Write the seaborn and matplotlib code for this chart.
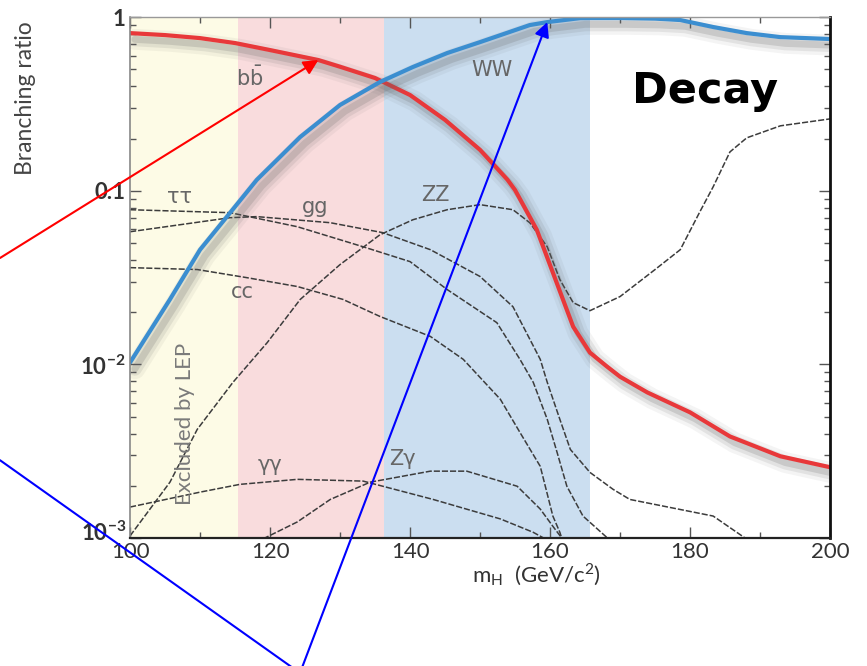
import matplotlib
matplotlib.use("Agg")
import matplotlib.pyplot as plt
import matplotlib.patheffects as pe
import matplotlib.transforms as mtransforms
from matplotlib.lines import Line2D
from matplotlib.ticker import FixedLocator, LogLocator, NullFormatter, MultipleLocator
import seaborn as sns

# ---- Higgs decay branching ratios vs. mass (GeV/c^2) ----
bb_mass = [100, 105, 110, 115, 120, 126.9, 130, 135, 140, 145, 150, 153.9, 155,
           158.1, 160.4, 163.3, 165.7, 168.1, 170, 173.9, 180, 185.7, 192.9, 200]
bb_br = [0.809, 0.788, 0.757, 0.709, 0.646, 0.566, 0.518, 0.446, 0.356, 0.256,
         0.172, 0.116, 0.101, 0.0597, 0.0338, 0.0165, 0.0117, 0.00975, 0.0085,
         0.0069, 0.0053, 0.00385, 0.00296, 0.00256]

ww_mass = [100, 105.7, 110, 114.3, 118.1, 124.3, 130, 135.7, 140.4, 145.3, 150,
           157.1, 159.6, 164.3, 170, 175, 178.6, 183.3, 188.1, 192.9, 200]
ww_br = [0.01026, 0.0237, 0.0458, 0.0748, 0.1156, 0.204, 0.312, 0.423, 0.516,
         0.621, 0.718, 0.900, 0.936, 0.987, 0.987, 0.98, 0.962, 0.877, 0.809,
         0.767, 0.748]

zz_mass = [100, 105.7, 109.6, 114.7, 119.6, 124.3, 130, 135.7, 140.4, 145.3, 150,
           154.7, 157.1, 159.6, 161.4, 163.3, 165.7, 170, 175, 178.6, 181.4,
           183.3, 185.7, 188.1, 192.9, 200]
zz_br = [0.00103, 0.0021, 0.00423, 0.00789, 0.01337, 0.02366, 0.0376, 0.0558,
         0.0681, 0.0778, 0.0832, 0.0778, 0.0655, 0.0476, 0.0308, 0.0227, 0.0204,
         0.0246, 0.0352, 0.0458, 0.0757, 0.1054, 0.1675, 0.2018, 0.2366, 0.2594]

tautau_mass = [100, 114.3, 123.9, 133.3, 140, 145.3, 152.4, 155.7, 157.6, 159.6,
               161, 162.4, 164.7, 168.1]
tautau_br = [0.0778, 0.0748, 0.0621, 0.0476, 0.0391, 0.0270, 0.0174, 0.0107,
             0.00789, 0.00483, 0.00312, 0.00199, 0.00134, 0.00101]

gg_mass = [100, 114.3, 118.1, 128.6, 136.1, 142.9, 150, 154.7, 158.6, 159.6,
           161.4, 162.9, 165.7, 169, 171.4, 183.3, 188.1]
gg_br = [0.0581, 0.0700, 0.0710, 0.0655, 0.0574, 0.0458, 0.0321, 0.0215, 0.0107,
         0.00789, 0.00483, 0.00324, 0.00239, 0.00191, 0.00167, 0.00134, 0.000986]

cc_mass = [100, 109.6, 116.7, 123.9, 130.4, 135.7, 142.9, 147.6, 152.9, 155.7,
           158.6, 160.4, 161.4, 161.7]
cc_br = [0.0361, 0.0352, 0.0316, 0.0281, 0.0237, 0.0189, 0.0145, 0.0107, 0.0063,
         0.00406, 0.00259, 0.00134, 0.00108, 0.00099]

gamgam_mass = [100, 110, 115.7, 123.9, 133.3, 143.3, 152.9, 157.6, 159.3]
gamgam_br = [0.00151, 0.00184, 0.00204, 0.00218, 0.00213, 0.00167, 0.00129,
             0.00108, 0.00099]

zgam_mass = [119, 123.9, 128.6, 134.3, 142.9, 148.1, 155.3, 158.6, 160.4, 161.6]
zgam_br = [0.00099, 0.00124, 0.00167, 0.00210, 0.00243, 0.00243, 0.00199,
           0.00147, 0.00117, 0.00101]

# mass windows: excluded by LEP / low-mass / WW region
band_edges = [100, 115.4, 136.3, 165.7]
band_colors = ["#fdfbe6", "#f9dcdd", "#cbdef0"]

x_ticks = [100, 120, 140, 160, 180, 200]
y_ticks = [1e-3, 1e-2, 0.1, 1]
y_tick_labels = [r"$\mathregular{10^{-3}}$", r"$\mathregular{10^{-2}}$", "0.1", "1"]

# ---- style ----
sns.set_style("ticks")
plt.rcParams["font.family"] = ["Lato", "DejaVu Sans"]
plt.rcParams["mathtext.fontset"] = "dejavusans"

fig = plt.figure(figsize=(8.67, 6.66), dpi=100)
ax = fig.add_axes([0.150, 0.192, 0.8074, 0.7823])

for lo, hi, c in zip(band_edges[:-1], band_edges[1:], band_colors):
    ax.axvspan(lo, hi, color=c, lw=0, zorder=0)

thin = dict(color="#3c3c3c", lw=1.1, linestyle=(0, (4, 1.3)), legend=False,
            estimator=None, zorder=3)
for m, br in [(zz_mass, zz_br), (tautau_mass, tautau_br), (gg_mass, gg_br),
              (cc_mass, cc_br), (gamgam_mass, gamgam_br), (zgam_mass, zgam_br)]:
    sns.lineplot(x=m, y=br, ax=ax, **thin)

shadow = [pe.SimpleLineShadow(offset=(3.5, -4.5), shadow_color="#666666", alpha=0.07, linewidth=15),
          pe.SimpleLineShadow(offset=(3.5, -4.5), shadow_color="#666666", alpha=0.12, linewidth=10),
          pe.SimpleLineShadow(offset=(3.5, -4.5), shadow_color="#666666", alpha=0.20, linewidth=5),
          pe.Normal()]
sns.lineplot(x=bb_mass, y=bb_br, ax=ax, color="#e8383a", lw=3, legend=False,
             estimator=None, zorder=5, path_effects=shadow)
sns.lineplot(x=ww_mass, y=ww_br, ax=ax, color="#3b8ed0", lw=3, legend=False,
             estimator=None, zorder=5, path_effects=shadow)

ax.set_yscale("log")
ax.set_xlim(100, 200)
ax.set_ylim(1e-3, 1)
ax.xaxis.set_major_locator(FixedLocator(x_ticks))
ax.xaxis.set_minor_locator(MultipleLocator(10))
ax.yaxis.set_major_locator(FixedLocator(y_ticks))
ax.set_yticklabels(y_tick_labels)
ax.yaxis.set_minor_locator(LogLocator(base=10, subs=range(2, 10)))
ax.yaxis.set_minor_formatter(NullFormatter())
ax.tick_params(which="both", direction="in", top=True, right=True,
               colors="#555555")
ax.tick_params(which="major", length=8, width=1)
ax.tick_params(which="minor", length=4, width=1)
ax.tick_params(axis="x", labelsize=16, labelcolor="#333333", pad=3)
ax.tick_params(axis="y", labelsize=16, labelcolor="#333333", pad=3)
for lbl in ax.get_yticklabels():
    lbl.set_fontweight("bold")
# lift the lowest decade label a little so it clears the first mass label
low_lbl = ax.get_yticklabels()[0]
low_lbl.set_transform(low_lbl.get_transform() +
                      mtransforms.ScaledTranslation(0, 5 / 72, fig.dpi_scale_trans))

ax.spines["left"].set_color("#888888")
ax.spines["top"].set_color("#999999")
ax.spines["bottom"].set_color("#222222")
ax.spines["right"].set_color("#111111")
ax.spines["left"].set_linewidth(1.2)
ax.spines["top"].set_linewidth(1.0)
ax.spines["bottom"].set_linewidth(1.6)
ax.spines["right"].set_linewidth(2.0)
for s in ax.spines.values():
    s.set_zorder(6)

ax.set_xlabel(r"$\mathregular{m_H}$  (GeV/c$^\mathregular{2}$)", fontsize=16,
              color="#333333")
ax.xaxis.set_label_coords(0.58, -0.045)
ax.set_ylabel("Branching ratio", fontsize=16.5, color="#444444")
ax.yaxis.set_label_coords(-0.135, 0.845)

lab = dict(color="#666666", fontsize=15, ha="center", va="center", zorder=4,
           family=["DejaVu Sans"])
ax.text(117.1, 0.446, r"$\mathregular{b\bar{b}}$", **lab)
ax.text(151.7, 0.496, "WW", **lab)
ax.text(107.1, 0.0924, "ττ", **lab)
ax.text(126.4, 0.081, "gg", **lab)
ax.text(116.1, 0.026, "cc", **lab)
ax.text(143.6, 0.0948, "ZZ", **lab)
ax.text(120, 0.00263, "γγ", **lab)
ax.text(138.9, 0.00284, "Zγ", **lab)
ax.text(107.9, 0.00452, "Excluded by LEP", rotation=90, color="#7a7a7a",
        fontsize=16, ha="center", va="center", zorder=4)
ax.text(182.1, 0.32, "Decay", fontsize=31, fontweight="bold", color="black",
        ha="center", va="baseline", family=["DejaVu Sans"], zorder=4)

# pointer arrows onto the bb and WW curves
ax.annotate("", xy=(bb_mass[5], bb_br[5]), xycoords="data",
            xytext=(0.0, 0.6126), textcoords="figure fraction",
            arrowprops=dict(arrowstyle="-|>", color="#ff0000", lw=1.5,
                            mutation_scale=22, shrinkA=0, shrinkB=0),
            annotation_clip=False, zorder=10)
fig.add_artist(Line2D([0.0, 0.346], [0.309, -0.0105], transform=fig.transFigure,
                      color="#0000ff", lw=1.5, zorder=10))
ax.annotate("", xy=(ww_mass[12], ww_br[12]), xycoords="data",
            xytext=(0.346, -0.0105), textcoords="figure fraction",
            arrowprops=dict(arrowstyle="-|>", color="#0000ff", lw=1.5,
                            mutation_scale=22, shrinkA=0, shrinkB=0),
            annotation_clip=False, zorder=10)

fig.savefig("out.png", dpi=100)
